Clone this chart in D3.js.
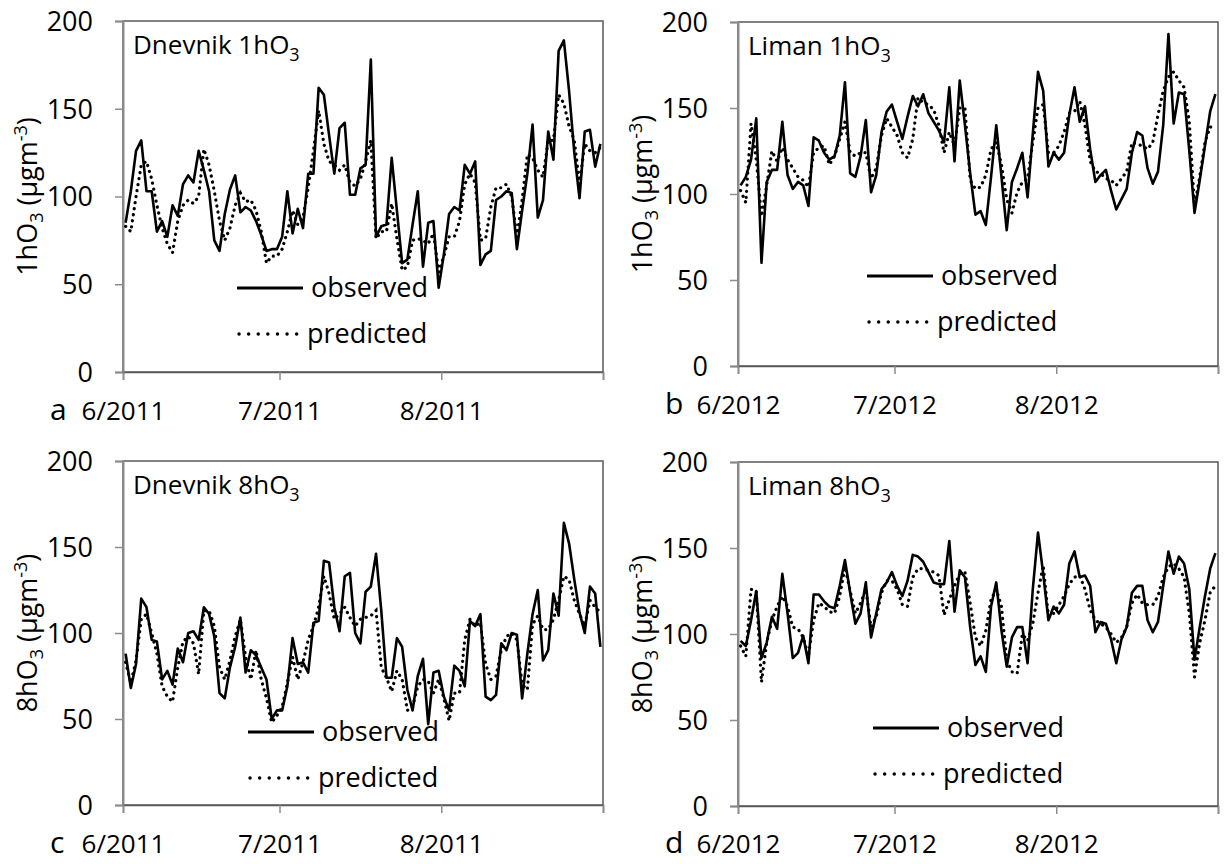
<!DOCTYPE html>
<html>
<head>
<meta charset="utf-8">
<script src="https://cdn.jsdelivr.net/npm/d3@7"></script>
<style>
  body { margin: 0; background: #fff; }
  svg { font-family: "Open Sans", sans-serif; }
  .tick text { fill: #000; }
</style>
</head>
<body>
<div id="chart-area"></div>
<script>
// daily values, 1 June - 31 August (92 days)
const obsA = [85,103,126,132,103,103,80,86,77,95,89,107,112,108,126,115,103,75,69,90,104,112,91,94,92,86,78,69,70,70,77,103,79,93,82,113,113,162,158,135,113,139,142,101,101,116,118,178,77,83,84,122,92,62,64,84,103,60,85,86,48,67,90,94,92,118,113,120,61,67,69,98,100,103,102,70,92,113,141,88,98,137,121,183,189,160,125,99,137,138,117,130];
const predA = [83,80,100,118,120,110,95,82,73,68,86,95,98,96,100,127,118,103,86,75,82,95,102,97,98,92,80,62,66,66,70,80,92,84,88,105,126,149,130,120,118,115,118,108,106,110,120,132,76,80,80,96,76,58,60,75,76,75,73,79,57,66,77,77,86,107,113,108,75,76,94,105,105,107,100,77,98,124,122,115,111,132,132,158,153,140,132,107,130,126,125,128];

const obsB = [105,110,120,144,60,107,114,114,142,111,103,107,105,93,133,131,124,120,122,134,165,112,110,122,143,101,111,136,148,152,142,132,145,157,151,158,147,142,137,130,162,119,166,140,112,88,90,82,110,140,110,79,107,115,124,98,135,171,160,116,124,120,124,146,162,142,151,126,107,111,114,102,91,97,103,124,136,134,115,106,113,140,193,141,159,158,125,89,108,128,148,158];
const predB = [102,95,141,120,87,105,125,119,127,120,115,110,108,104,124,127,128,117,122,132,142,124,122,124,124,109,115,134,144,139,134,124,121,132,156,153,152,149,140,124,136,128,150,150,108,103,104,111,126,130,117,97,89,101,107,109,130,150,152,124,124,128,136,147,148,154,140,119,113,112,109,108,105,109,113,130,129,128,126,130,146,160,168,171,166,162,142,93,110,130,139,138];

const obsC = [88,68,82,120,115,96,95,73,78,70,91,83,100,101,96,115,111,98,65,62,80,92,109,77,90,87,80,73,50,55,55,69,97,82,83,77,106,107,142,141,115,101,133,135,100,94,124,127,146,113,74,74,97,92,67,55,75,85,47,77,78,63,55,81,78,69,107,104,111,63,61,64,94,90,100,99,62,88,111,125,84,90,123,110,164,152,131,112,100,127,123,92];
const predC = [83,71,84,108,111,100,88,69,63,60,80,95,98,94,76,113,113,104,80,73,84,98,108,86,73,90,73,62,48,52,57,71,86,73,83,96,104,115,133,123,108,111,115,109,104,108,109,110,113,80,74,66,78,73,55,57,69,73,72,65,73,62,49,65,65,96,108,104,106,82,73,75,90,98,100,96,70,67,105,110,102,102,108,119,133,131,119,111,104,119,115,112];

const obsD = [96,93,108,125,86,95,110,103,135,112,86,89,99,83,123,123,119,116,115,128,143,124,106,112,130,98,112,126,130,136,128,122,131,146,145,142,136,130,129,129,154,113,137,133,104,82,87,78,116,130,102,81,98,104,104,83,126,159,135,108,116,112,117,141,148,133,134,128,101,107,106,97,83,97,104,124,128,128,108,101,107,128,148,135,145,141,126,85,104,122,138,147];
const predD = [93,87,126,125,72,95,108,116,122,116,104,103,98,87,108,118,116,113,112,122,139,125,112,118,126,104,110,124,131,131,126,117,116,133,138,138,137,136,134,111,120,128,135,136,118,98,93,102,120,126,116,85,78,77,100,96,106,124,140,110,112,117,122,129,133,134,126,114,108,106,104,100,95,98,104,118,123,118,117,117,122,133,139,141,138,133,112,75,95,108,124,128];

const yTicks = [0, 50, 100, 150, 200];
const monthStarts = [5, 6, 7];          // June, July, August (0-based months)
const seriesNames = ["observed", "predicted"];

const panels = [
  {letter: "a", site: "Dnevnik", conc: "1h", year: 2011, obs: obsA, pred: predA,
   box: {l: 123, r: 603, t: 21, b: 372}, labelDrop: 48, leg: {x: 237, y: 288}},
  {letter: "b", site: "Liman", conc: "1h", year: 2012, obs: obsB, pred: predB,
   box: {l: 738, r: 1218, t: 22, b: 366}, labelDrop: 48, leg: {x: 867, y: 276}},
  {letter: "c", site: "Dnevnik", conc: "8h", year: 2011, obs: obsC, pred: predC,
   box: {l: 123, r: 603, t: 461, b: 805}, labelDrop: 48, leg: {x: 248, y: 732}},
  {letter: "d", site: "Liman", conc: "8h", year: 2012, obs: obsD, pred: predD,
   box: {l: 738, r: 1218, t: 462, b: 806}, labelDrop: 47, leg: {x: 873, y: 728}}
];

const svg = d3.select("#chart-area").append("svg")
    .attr("width", 1224)
    .attr("height", 864);

const axisGrey = "#8c8c8c";
const boxGrey = "#595959";
const fontSize = 27;

panels.forEach(p => drawPanel(p));

function drawPanel(p) {
    const w = p.box.r - p.box.l;
    const h = p.box.b - p.box.t;
    const g = svg.append("g")
        .attr("transform", `translate(${p.box.l}, ${p.box.t})`);

    const x = d3.scaleTime()
        .domain([new Date(p.year, 5, 1), new Date(p.year, 8, 1)])
        .range([0, w]);
    const y = d3.scaleLinear()
        .domain([0, 200])
        .range([h, 0]);

    // day i sits in the middle of its slot
    const dayDate = i => new Date(p.year, 5, 1 + i, 12);

    // plot area frame
    g.append("rect")
        .attr("width", w)
        .attr("height", h)
        .attr("fill", "none")
        .attr("stroke", boxGrey)
        .attr("stroke-width", 1.5);

    // y axis
    const yAxis = d3.axisLeft(y)
        .tickValues(yTicks)
        .tickSize(8)
        .tickPadding(22);
    const gy = g.append("g").call(yAxis);
    gy.select(".domain").attr("stroke", axisGrey).attr("stroke-width", 2);
    gy.selectAll(".tick line").attr("stroke", axisGrey).attr("stroke-width", 1.5);
    gy.selectAll(".tick text")
        .attr("font-size", fontSize)
        .attr("font-family", "Open Sans")
        .attr("dy", "0.35em");

    // x axis
    const xTickDates = monthStarts.map(m => new Date(p.year, m, 1)).concat([new Date(p.year, 8, 1)]);
    const xAxis = d3.axisBottom(x)
        .tickValues(xTickDates)
        .tickSize(8)
        .tickPadding(0)
        .tickFormat(d => d.getMonth() === 8 ? "" : d3.timeFormat("%-m/%Y")(d));
    const gx = g.append("g")
        .attr("transform", `translate(0, ${h})`)
        .call(xAxis);
    gx.select(".domain").attr("stroke", boxGrey).attr("stroke-width", 1.5);
    gx.selectAll(".tick line").attr("stroke", axisGrey).attr("stroke-width", 1.5);
    gx.selectAll(".tick text")
        .attr("y", p.labelDrop)
        .attr("dy", null)
        .attr("font-size", 26)
        .attr("font-family", "Open Sans");

    // panel letter
    svg.append("text")
        .attr("x", p.box.l - 73)
        .attr("y", p.box.b + p.labelDrop)
        .attr("font-size", 30)
        .text(p.letter);

    // y axis title
    const yt = svg.append("text")
        .attr("transform", `translate(${p.box.l - 86}, ${p.box.t + h / 2}) rotate(-90)`)
        .attr("text-anchor", "middle")
        .attr("font-size", 27);
    yt.append("tspan").text(p.conc + "O");
    yt.append("tspan").attr("font-size", 18).attr("dy", 6).text("3");
    yt.append("tspan").attr("dy", -6).text(" (µgm");
    yt.append("tspan").attr("font-size", 18).attr("dy", -10).text("-3");
    yt.append("tspan").attr("dy", 10).text(")");

    // panel title
    const tt = g.append("text")
        .attr("x", 10)
        .attr("y", 33)
        .attr("font-size", 26);
    tt.append("tspan").text(p.site + " " + p.conc + "O");
    tt.append("tspan").attr("font-size", 18).attr("dy", 7).text("3");

    const line = d3.line()
        .x((d, i) => x(dayDate(i)))
        .y(d => y(d));

    g.append("path")
        .datum(p.pred)
        .attr("fill", "none")
        .attr("stroke", "#000")
        .attr("stroke-width", 3.2)
        .attr("stroke-linecap", "round")
        .attr("stroke-dasharray", "0.1 6")
        .attr("d", line);

    g.append("path")
        .datum(p.obs)
        .attr("fill", "none")
        .attr("stroke", "#000")
        .attr("stroke-width", 2.6)
        .attr("stroke-linejoin", "round")
        .attr("d", line);

    // legend
    const lg = svg.append("g")
        .attr("transform", `translate(${p.leg.x}, ${p.leg.y})`);
    seriesNames.forEach((name, k) => {
        const yy = k * 46;
        lg.append("line")
            .attr("x1", k === 1 ? 2 : 0).attr("x2", 66)
            .attr("y1", yy).attr("y2", yy)
            .attr("stroke", "#000")
            .attr("stroke-width", k === 1 ? 3.4 : 3)
            .attr("stroke-linecap", k === 1 ? "round" : "butt")
            .attr("stroke-dasharray", k === 1 ? "0.1 9.5" : null);
        lg.append("text")
            .attr("x", k === 1 ? 70 : 74)
            .attr("y", yy)
            .attr("dy", "0.35em")
            .attr("font-size", 27)
            .text(name);
    });
}
</script>
</body>
</html>
